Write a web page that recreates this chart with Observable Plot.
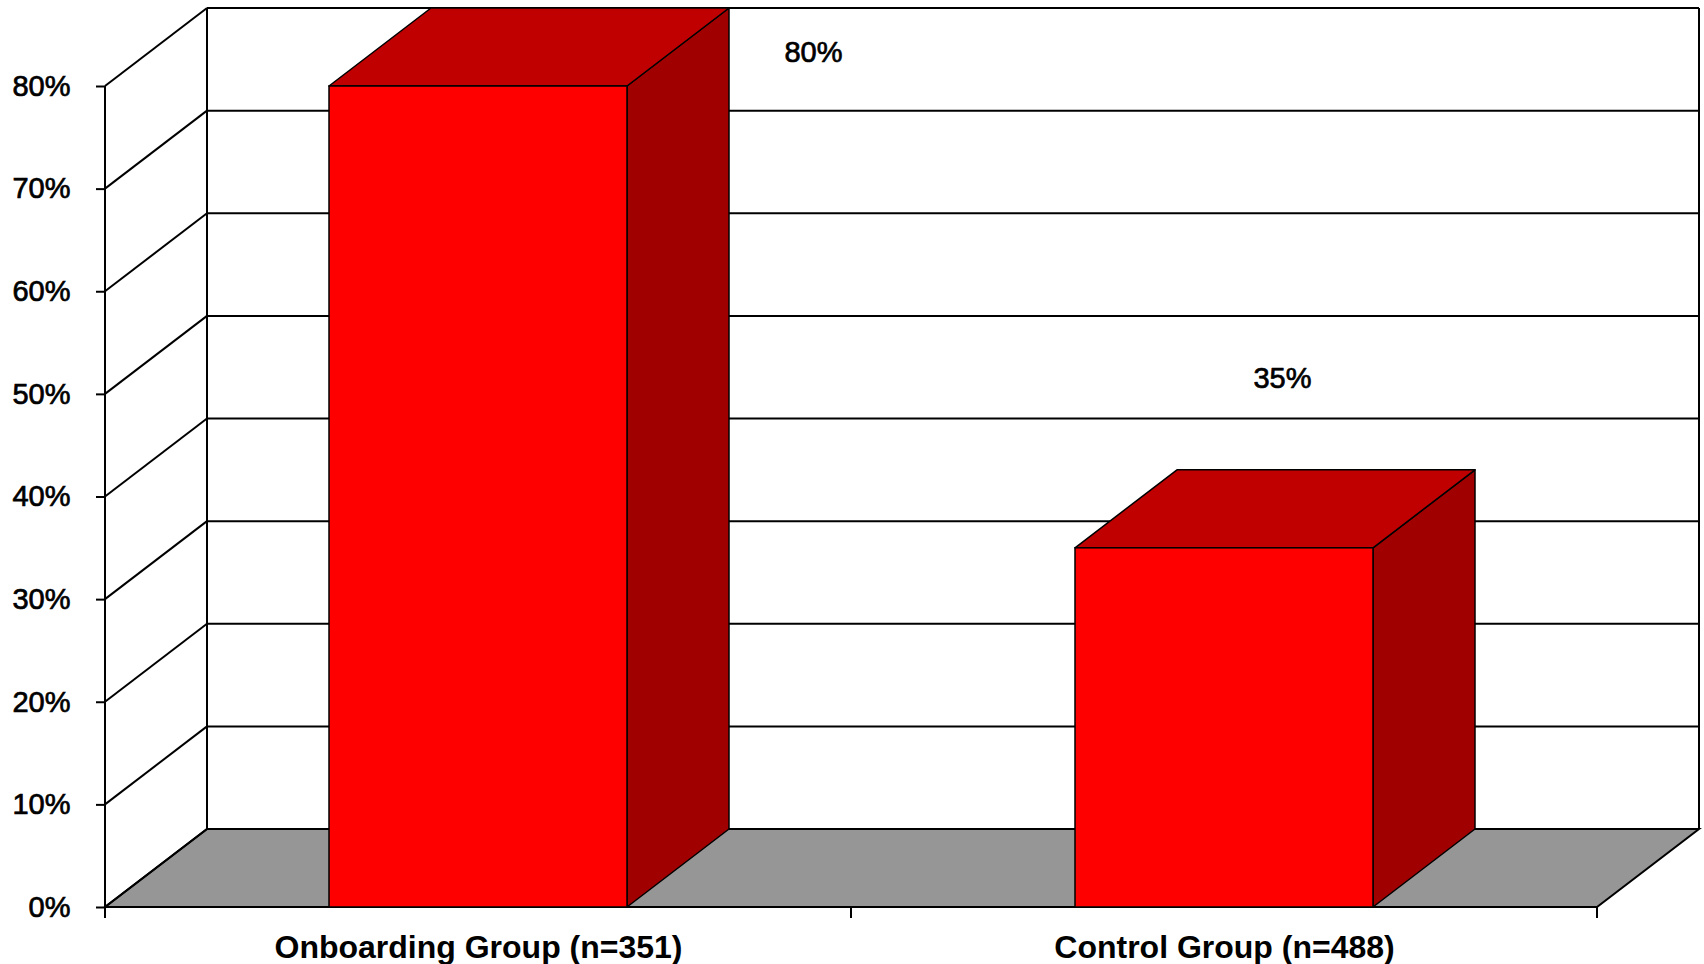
<!DOCTYPE html>
<html>
<head>
<meta charset="utf-8">
<script src="https://cdn.jsdelivr.net/npm/d3@7"></script>
<script src="https://cdn.jsdelivr.net/npm/@observablehq/plot@0.6"></script>
<style>
  html, body { margin: 0; padding: 0; background: #fff; }
  #chart svg { display: block; }
</style>
</head>
<body>
<div id="chart"></div>
<script>
// Share of each group (percent)
const groups = ["Onboarding Group (n=351)", "Control Group (n=488)"];
const shares = [80, 35];
const yTicks = [0, 10, 20, 30, 40, 50, 60, 70, 80];

const rows = groups.map((group, i) => ({group, share: shares[i]}));

// Pseudo-3D depth of walls and columns, in pixels
const DX = 102, DY = -78;
// Where each value label sits relative to its column's front top edge
const labelNudge = [[335, -34], [58, -170]];

const FRONT = "#ff0000", TOP = "#c00000", SIDE = "#a00000", FLOOR = "#969696";

const pts = (a) => a.map(p => p.join(",")).join(" ");

// Floor, back wall, side wall and the boundary ticks of the category axis
function walls(index, {x, y}) {
  const g = d3.create("svg:g").attr("fill", "none").attr("stroke", "#000").attr("stroke-width", 2);
  const [r0, r1] = x.range();
  const y0 = y(0), yMax = y(d3.max(yTicks));
  g.append("polygon")
    .attr("points", pts([[r0, y0], [r1, y0], [r1 + DX, y0 + DY], [r0 + DX, y0 + DY]]))
    .attr("fill", FLOOR);
  for (const v of yTicks) {
    if (v > 0) {
      g.append("line")
        .attr("x1", r0 + DX).attr("x2", r1 + DX)
        .attr("y1", y(v) + DY).attr("y2", y(v) + DY);
    }
    g.append("line")
      .attr("x1", r0).attr("y1", y(v))
      .attr("x2", r0 + DX).attr("y2", y(v) + DY);
  }
  for (const xx of [r0 + DX, r1 + DX]) {
    g.append("line").attr("x1", xx).attr("x2", xx).attr("y1", yMax + DY).attr("y2", y0 + DY);
  }
  g.append("line").attr("x1", r0).attr("x2", r0).attr("y1", yMax).attr("y2", y0);
  const n = x.domain().length;
  for (let i = 0; i <= n; i++) {
    const xx = r0 + (i * (r1 - r0)) / n;
    g.append("line").attr("x1", xx).attr("x2", xx).attr("y1", y0).attr("y2", y0 + 11);
  }
  return g.node();
}

// Top and right faces of each column
function columnFaces(index, {x, y}) {
  const g = d3.create("svg:g").attr("stroke", "#000").attr("stroke-width", 1.5).attr("stroke-linejoin", "round");
  const bw = x.bandwidth();
  const y0 = y(0);
  for (const d of rows) {
    const a = x(d.group), b = a + bw, t = y(d.share);
    g.append("polygon").attr("fill", SIDE)
      .attr("points", pts([[b, t], [b + DX, t + DY], [b + DX, y0 + DY], [b, y0]]));
    g.append("polygon").attr("fill", TOP)
      .attr("points", pts([[a, t], [b, t], [b + DX, t + DY], [a + DX, t + DY]]));
  }
  return g.node();
}

const chart = Plot.plot({
  width: 1704,
  height: 964,
  marginLeft: 105,
  marginRight: 107,
  marginTop: 86,
  marginBottom: 57,
  style: {fontFamily: "'Liberation Sans', Arial, sans-serif", color: "#000", background: "#fff"},
  x: {domain: groups, paddingInner: 0.6, paddingOuter: 0.3, axis: null},
  y: {domain: [0, 80], axis: null},
  marks: [
    walls,
    columnFaces,
    Plot.barY(rows, {x: "group", y: "share", fill: FRONT, stroke: "#000", strokeWidth: 1.5}),
    ...rows.map((d, i) => Plot.text([d], {
      x: "group", y: "share", text: (r) => `${r.share}%`,
      dx: labelNudge[i][0], dy: labelNudge[i][1],
      fontSize: 29, fill: "#000", stroke: "#000", strokeWidth: 0.7
    })),
    Plot.axisY({ticks: yTicks, tickFormat: (d) => `${d}%`, tickSize: 9, tickPadding: 26,
      fontSize: 29, strokeWidth: 2, label: null}),
    Plot.axisX({tickSize: 0, tickPadding: 28, fontSize: 32, fontWeight: "bold", label: null})
  ]
});

// Slightly heavier strokes on the percent tick labels
d3.select(chart).selectAll("g[aria-label='y-axis tick label'] text")
  .attr("stroke", "#000").attr("stroke-width", 0.7).attr("paint-order", "stroke");

document.getElementById("chart").append(chart);
</script>
</body>
</html>
